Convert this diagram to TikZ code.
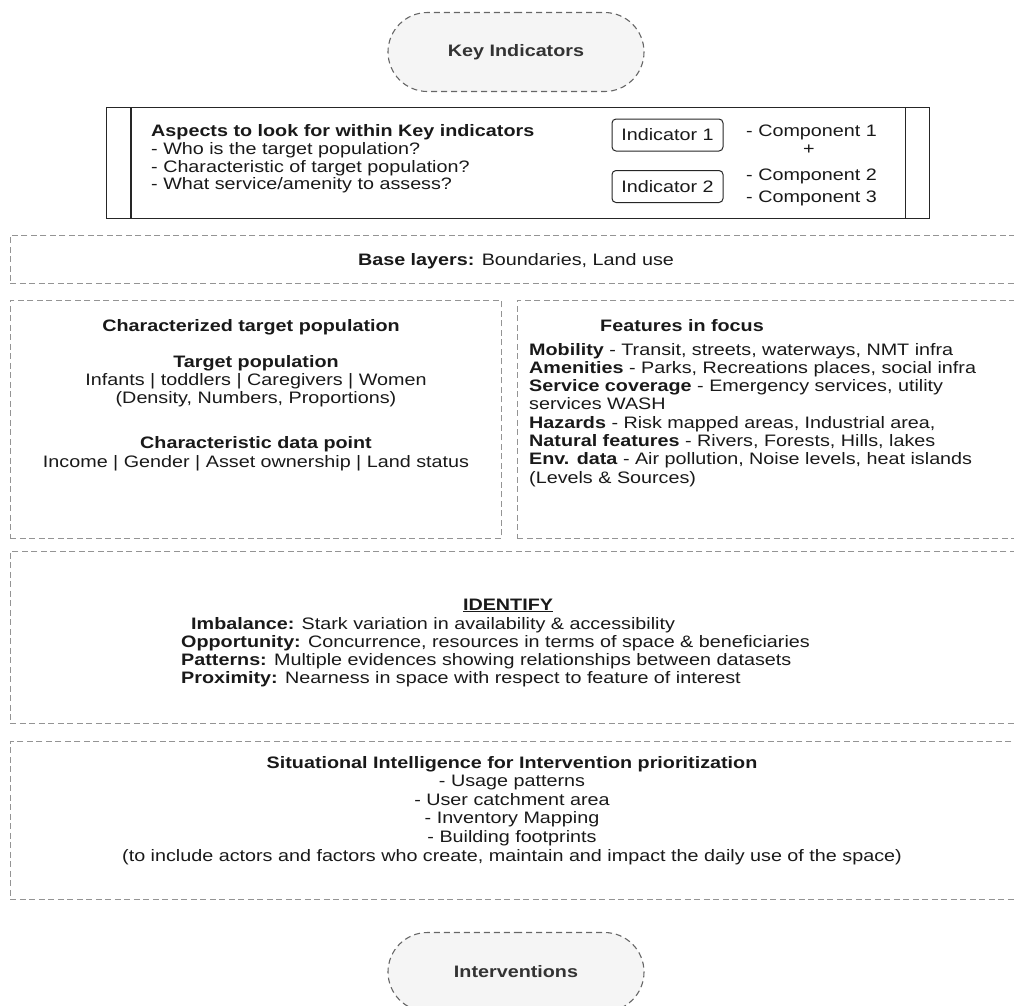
\documentclass[tikz,border=0pt]{standalone}
\usepackage{fontspec}
\setmainfont{Liberation Sans}[FakeStretch=1.19]
\usetikzlibrary{shapes.misc}
\newcommand{\bodysize}{\fontsize{16.6}{18.3}\selectfont}
\begin{document}
\begin{tikzpicture}[x=1pt,y=-1pt,
  txt/.style={font=\bodysize, inner sep=0pt, text=black!90},
  lbl/.style={txt, anchor=base west},
  ctr/.style={txt, anchor=base},
  hd/.style={font=\bodysize\bfseries},
  dashbox/.style={draw=black!42, dash pattern=on 6pt off 3.5pt, line width=0.9pt, inner sep=0pt},
  terminal/.style={rounded rectangle, draw=black!60, fill=black!4,
    dash pattern=on 6pt off 4pt, line width=1.1pt, minimum width=256pt,
    minimum height=79pt, inner sep=0pt, text=black!80,
    font=\bodysize\bfseries},
  indbox/.style={draw=black!85, rounded corners=4pt, line width=1pt,
    minimum width=111pt, minimum height=32pt, inner sep=0pt, txt},
  procbox/.style={draw=black!85, line width=1.2pt, inner sep=0pt}
]
\useasboundingbox (0,0) rectangle (1014,1005);
\clip (0,0) rectangle (1014,1005);

% start and end terminals
\node[terminal] (keyind) at (516,52) {Key Indicators};
\node[terminal] (interv) at (516,972) {Interventions};

% process box with the aspects and indicators
\node[procbox, minimum width=823pt, minimum height=111pt, anchor=north west] (aspects) at (106,107) {};
\draw[black!85, line width=1.2pt] ([xshift=25pt]aspects.north west) -- ([xshift=25pt]aspects.south west);
\draw[black!85, line width=1.2pt] ([xshift=-25pt]aspects.north east) -- ([xshift=-25pt]aspects.south east);
\node[lbl, hd] (asp0) at (151,136) {Aspects to look for within Key indicators};
\node[lbl] (asp1) at (151,154) {- Who is the target population?};
\node[lbl] (asp2) at (151,172) {- Characteristic of target population?};
\node[lbl] (asp3) at (151,189.5) {- What service/amenity to assess?};
\node[indbox] (ind1) at (667.5,135) {Indicator 1};
\node[indbox] (ind2) at (667.5,186.5) {Indicator 2};
\node[lbl] (comp1) at (746,136) {- Component 1};
\node[txt] (plus) at (809,150) {+};
\node[lbl] (comp2) at (746,180) {- Component 2};
\node[lbl] (comp3) at (746,202) {- Component 3};

% base layers
\node[dashbox, minimum width=1020pt, minimum height=48pt, anchor=north west] (base) at (10,235) {};
\node[ctr] (basetxt) at (516,265) {\textbf{Base layers:} Boundaries, Land use};

% characterized target population
\node[dashbox, minimum width=491pt, minimum height=238pt, anchor=north west] (target) at (10,300) {};
\node[ctr, hd] (tg0) at (251,331) {Characterized target population};
\node[ctr, hd] (tg1) at (256,367) {Target population};
\node[ctr] (tg2) at (256,385) {Infants | toddlers | Caregivers | Women};
\node[ctr] (tg3) at (256,403) {(Density, Numbers, Proportions)};
\node[ctr, hd] (tg4) at (256,448) {Characteristic data point};
\node[ctr] (tg5) at (256,467) {Income | Gender | Asset ownership | Land status};

% features in focus
\node[dashbox, minimum width=510pt, minimum height=238pt, anchor=north west] (features) at (517,300) {};
\node[ctr, hd] (ft0) at (682,331) {Features in focus};
\node[lbl] (ft1) at (529,355) {\textbf{Mobility} - Transit, streets, waterways, NMT infra};
\node[lbl] (ft2) at (529,373.3) {\textbf{Amenities} - Parks, Recreations places, social infra};
\node[lbl] (ft3) at (529,391.6) {\textbf{Service coverage} - Emergency services, utility};
\node[lbl] (ft4) at (529,409.9) {services WASH};
\node[lbl] (ft5) at (529,428.2) {\textbf{Hazards} - Risk mapped areas, Industrial area,};
\node[lbl] (ft6) at (529,446.5) {\textbf{Natural features} - Rivers, Forests, Hills, lakes};
\node[lbl] (ft7) at (529,464.8) {\textbf{Env. data} - Air pollution, Noise levels, heat islands};
\node[lbl] (ft8) at (529,483.1) {(Levels \& Sources)};

% identify
\node[dashbox, minimum width=1020pt, minimum height=172pt, anchor=north west] (identify) at (10,551) {};
\node[ctr, hd] (id0) at (508,610) {\underline{IDENTIFY}};
\node[lbl] (id1) at (191,629) {\textbf{Imbalance:} Stark variation in availability \& accessibility};
\node[lbl] (id2) at (181,647) {\textbf{Opportunity:} Concurrence, resources in terms of space \& beneficiaries};
\node[lbl] (id3) at (181,665) {\textbf{Patterns:} Multiple evidences showing relationships between datasets};
\node[lbl] (id4) at (181,683) {\textbf{Proximity:} Nearness in space with respect to feature of interest};

% situational intelligence
\node[dashbox, minimum width=1020pt, minimum height=158pt, anchor=north west] (situ) at (10,741) {};
\node[ctr, hd] (si0) at (512,768) {Situational Intelligence for Intervention prioritization};
\node[ctr] (si1) at (512,786.5) {- Usage patterns};
\node[ctr] (si2) at (512,805) {- User catchment area};
\node[ctr] (si3) at (512,823.5) {- Inventory Mapping};
\node[ctr] (si4) at (512,842) {- Building footprints};
\node[ctr] (si5) at (512,861) {(to include actors and factors who create, maintain and impact the daily use of the space)};
\end{tikzpicture}
\end{document}
